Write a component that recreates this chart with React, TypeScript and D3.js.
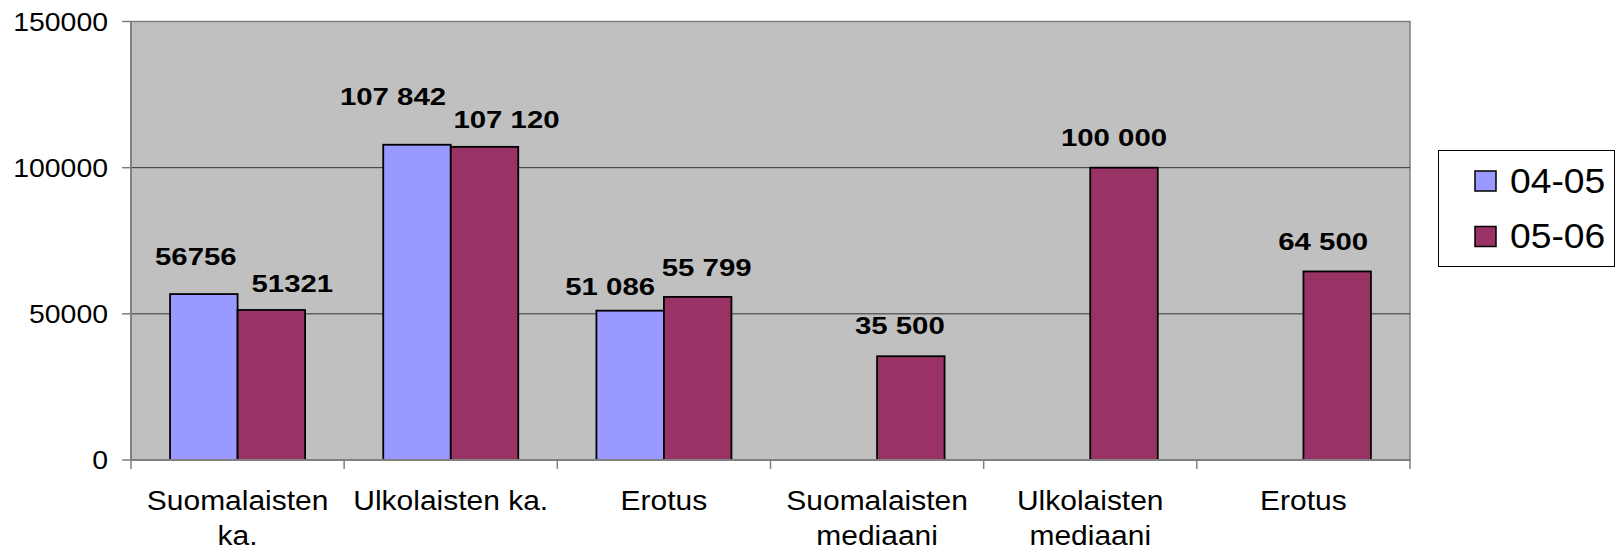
import React from 'react';
import * as d3 from 'd3';

// data
const categories = ['Suomalaisten ka.', 'Ulkolaisten ka.', 'Erotus', 'Suomalaisten mediaani', 'Ulkolaisten mediaani', 'Erotus 2'];
const categoryLines = [['Suomalaisten', 'ka.'], ['Ulkolaisten ka.'], ['Erotus'], ['Suomalaisten', 'mediaani'], ['Ulkolaisten', 'mediaani'], ['Erotus']];
const seriesNames = ['04-05', '05-06'];
const values0405 = [56756, 107842, 51086, null, null, null];
const values0506 = [51321, 107120, 55799, 35500, 100000, 64500];
const labels0405 = ['56756', '107 842', '51 086', '', '', ''];
const labels0506 = ['51321', '107 120', '55 799', '35 500', '100 000', '64 500'];
const yTicks = [0, 50000, 100000, 150000];

// hand-placed label nudges (dx, dy from bar centre / top), like the original
const nudge0405 = [[-8, -29], [-24, -40], [-20, -16], [0, 0], [0, 0], [0, 0]];
const nudge0506 = [[21, -18], [22, -19], [9, -21], [-11, -22], [-10, -22], [-14, -21]];

const colors = ['#9999FF', '#993366'];
const FONT = '"Liberation Sans", Arial, sans-serif';

const W = 1621;
const H = 552;
const plot = { left: 131, right: 1410, top: 21.5, bottom: 460 };

export default function App() {
  const x0 = d3.scaleBand<string>().domain(categories).range([plot.left, plot.right]).padding(0);
  const x1 = d3.scaleBand<string>().domain(seriesNames).range([0, x0.bandwidth()]).paddingInner(0).paddingOuter(0.579);
  const y = d3.scaleLinear().domain([0, 150000]).range([plot.bottom, plot.top]);

  const series = [
    { name: seriesNames[0], values: values0405, labels: labels0405, nudge: nudge0405, color: colors[0] },
    { name: seriesNames[1], values: values0506, labels: labels0506, nudge: nudge0506, color: colors[1] },
  ];

  const boundaries = d3.range(categories.length + 1).map(i => plot.left + i * x0.step());

  return (
    <svg width={W} height={H} style={{ position: 'absolute', left: 0, top: 0, background: '#fff' }} fontFamily={FONT}>
      {/* plot area */}
      <rect x={plot.left} y={plot.top} width={plot.right - plot.left} height={plot.bottom - plot.top} fill="#C0C0C0" stroke="#808080" strokeWidth={1.5} />

      {/* gridlines */}
      {yTicks.filter(t => t > 0 && t < 150000).map(t => (
        <line key={t} x1={plot.left} x2={plot.right} y1={y(t)} y2={y(t)} stroke="#333" strokeWidth={1} />
      ))}

      {/* bars */}
      {series.map(s => (
        <g key={s.name}>
          {categories.map((c, i) => {
            const v = s.values[i];
            if (v == null) return null;
            const bx = (x0(c) as number) + (x1(s.name) as number);
            return (
              <rect key={c} x={bx} y={y(v)} width={x1.bandwidth()} height={y(0) - y(v)}
                fill={s.color} stroke="#000" strokeWidth={1.8} />
            );
          })}
        </g>
      ))}

      {/* axes */}
      <line x1={plot.left} x2={plot.left} y1={plot.top} y2={plot.bottom} stroke="#808080" strokeWidth={2} />
      <line x1={plot.left} x2={plot.right} y1={plot.bottom} y2={plot.bottom} stroke="#808080" strokeWidth={2} />
      {yTicks.map(t => (
        <g key={t}>
          <line x1={plot.left - 9} x2={plot.left} y1={y(t)} y2={y(t)} stroke="#808080" strokeWidth={1.5} />
          <text transform={`translate(108,${y(t) + 9}) scale(1.11,1)`} textAnchor="end" fontSize={25.6} fill="#000">{t}</text>
        </g>
      ))}
      {boundaries.map((bx, i) => (
        <line key={i} x1={bx} x2={bx} y1={plot.bottom} y2={plot.bottom + 9} stroke="#808080" strokeWidth={1.5} />
      ))}
      {categories.map((c, i) => {
        const cx = (x0(c) as number) + x0.bandwidth() / 2;
        return categoryLines[i].map((ln, j) => (
          <text key={c + j} transform={`translate(${cx},${509.5 + j * 35}) scale(1.09,1)`} textAnchor="middle" fontSize={27.5} fill="#000">{ln}</text>
        ));
      })}

      {/* value labels */}
      {series.map(s => (
        <g key={s.name + '-lab'}>
          {categories.map((c, i) => {
            const v = s.values[i];
            if (v == null) return null;
            const cx = (x0(c) as number) + (x1(s.name) as number) + x1.bandwidth() / 2 + s.nudge[i][0];
            const ty = y(v) + s.nudge[i][1];
            return (
              <text key={c} transform={`translate(${cx},${ty}) scale(1.24,1)`} textAnchor="middle" fontSize={23.7} fontWeight="bold" fill="#000">{s.labels[i]}</text>
            );
          })}
        </g>
      ))}

      {/* legend */}
      <rect x={1438.5} y={150.5} width={176} height={116} fill="#fff" stroke="#000" strokeWidth={1} />
      {series.map((s, i) => (
        <g key={s.name + '-leg'}>
          <rect x={1475} y={171 + i * 55.5} width={21} height={20} fill={s.color} stroke="#000" strokeWidth={1.5} />
          <text transform={`translate(1510,${192.7 + i * 55.5}) scale(1.08,1)`} fontSize={34.5} fill="#000">{s.name}</text>
        </g>
      ))}
    </svg>
  );
}
